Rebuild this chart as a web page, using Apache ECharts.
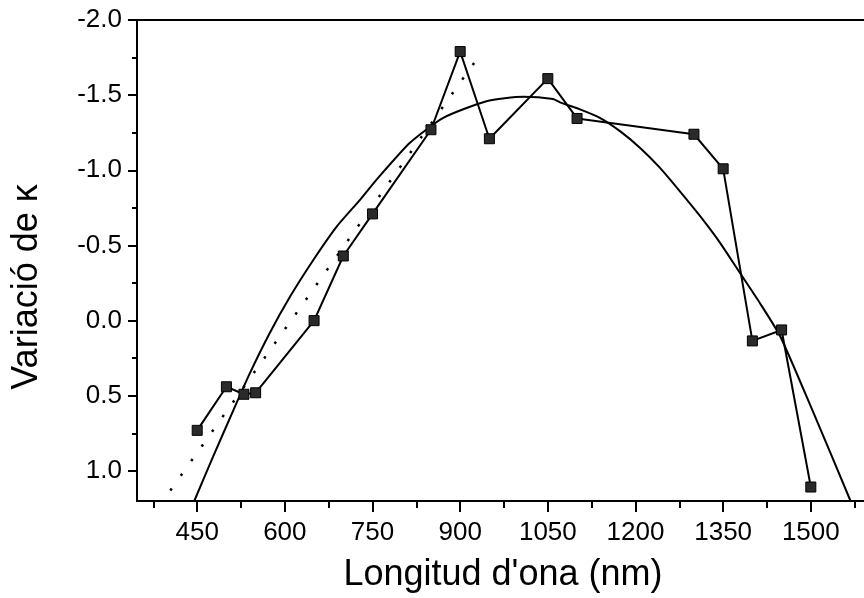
<!DOCTYPE html>
<html><head><meta charset="utf-8">
<script src="https://cdn.jsdelivr.net/npm/echarts@6/dist/echarts.min.js"></script>
<style>html,body{margin:0;padding:0;background:#fff}#c{width:864px;height:598px}</style>
</head><body><div id="c"></div>
<script>
// measured data (wavelength nm, variation of kappa)
const wavelengths = [450, 500, 530, 550, 650, 700, 750, 850, 900, 950, 1050, 1100, 1300, 1350, 1400, 1450, 1500];
const kappaVariation = [0.73, 0.44, 0.49, 0.48, 0.0, -0.43, -0.71, -1.27, -1.79, -1.21, -1.61, -1.345, -1.24, -1.01, 0.135, 0.062, 1.107];
// polynomial fit curve
const fitX = [445, 477, 512, 540, 574, 609, 649, 689, 729, 757, 814, 871, 945, 1008, 1059, 1071, 1105, 1139, 1174, 1208, 1242, 1276, 1311, 1345, 1379, 1413, 1448, 1505, 1568];
const fitY = [1.2, 0.907, 0.595, 0.351, 0.084, -0.16, -0.405, -0.627, -0.805, -0.938, -1.183, -1.349, -1.46, -1.489, -1.474, -1.452, -1.405, -1.349, -1.259, -1.149, -1.016, -0.86, -0.693, -0.516, -0.316, -0.116, 0.107, 0.617, 1.2];
// dotted linear trend
const trendX = [404, 934];
const trendY = [1.13, -1.77];
// axis ticks
const xMajorTicks = [450, 600, 750, 900, 1050, 1200, 1350, 1500];
const xMinorTicks = [375, 525, 675, 825, 975, 1125, 1275, 1425, 1575];
const yMajorTicks = [-2.0, -1.5, -1.0, -0.5, 0.0, 0.5, 1.0];
const yMinorTicks = [-1.75, -1.25, -0.75, -0.25, 0.25, 0.75];
const xTitle = "Longitud d'ona (nm)";
const yTitle = "Variació de κ";

const FONT = "'Liberation Sans', Arial, sans-serif";
const X_MIN = 347, X_MAX = 1591, Y_MIN = -2.0, Y_MAX = 1.2;
const lineBlack = {color: '#000', width: 2};

const zip = (a, b) => a.map((v, i) => [v, b[i]]);

const chart = echarts.init(document.getElementById('c'), null, {renderer: 'canvas'});
chart.setOption({
  animation: false,
  backgroundColor: '#fff',
  grid: {left: 137, top: 20, right: 0, bottom: 97},
  xAxis: [
    {type: 'value', position: 'bottom', min: X_MIN, max: X_MAX,
     axisLine: {onZero: false, lineStyle: lineBlack},
     axisTick: {show: true, length: 11, customValues: xMajorTicks, lineStyle: lineBlack},
     axisLabel: {customValues: xMajorTicks, margin: 19, color: '#000', fontSize: 26, fontFamily: FONT,
                 formatter: v => String(v)},
     splitLine: {show: false}},
    {type: 'value', position: 'bottom', min: X_MIN, max: X_MAX,
     axisLine: {show: false, onZero: false},
     axisTick: {show: true, length: 7, customValues: xMinorTicks, lineStyle: lineBlack},
     axisLabel: {show: false}, splitLine: {show: false}},
    {type: 'value', position: 'top', min: X_MIN, max: X_MAX,
     axisLine: {onZero: false, lineStyle: lineBlack},
     axisTick: {show: false}, axisLabel: {show: false}, splitLine: {show: false}}
  ],
  yAxis: [
    {type: 'value', position: 'left', inverse: true, min: Y_MIN, max: Y_MAX,
     axisLine: {show: true, onZero: false, lineStyle: lineBlack},
     axisTick: {show: true, length: 9, customValues: yMajorTicks, lineStyle: lineBlack},
     axisLabel: {customValues: yMajorTicks, margin: 15, color: '#000', fontSize: 26, fontFamily: FONT,
                 formatter: v => v.toFixed(1)},
     splitLine: {show: false}},
    {type: 'value', position: 'left', inverse: true, min: Y_MIN, max: Y_MAX,
     axisLine: {show: false, onZero: false},
     axisTick: {show: true, length: 5, customValues: yMinorTicks, lineStyle: lineBlack},
     axisLabel: {show: false}, splitLine: {show: false}}
  ],
  graphic: [
    {type: 'text', x: 503, y: 575, style: {text: xTitle, font: '36px ' + FONT, fill: '#000', align: 'center', verticalAlign: 'middle'}},
    {type: 'text', x: 27, y: 287, rotation: Math.PI / 2, style: {text: yTitle, font: '36px ' + FONT, fill: '#000', align: 'center', verticalAlign: 'middle'}}
  ],
  series: [
    {type: 'line', name: 'fit', xAxisIndex: 0, yAxisIndex: 0, data: zip(fitX, fitY), smooth: 0.2,
     showSymbol: false, symbol: 'none', lineStyle: {color: '#000', width: 2}, z: 2},
    {type: 'line', name: 'trend', xAxisIndex: 0, yAxisIndex: 0, data: zip(trendX, trendY),
     showSymbol: false, symbol: 'none', lineStyle: {color: '#000', width: 2.5, type: [2.5, 15.5]}, z: 2},
    {type: 'line', name: 'data', xAxisIndex: 0, yAxisIndex: 0, data: zip(wavelengths, kappaVariation),
     symbol: 'rect', symbolSize: 10, showSymbol: true,
     itemStyle: {color: '#2a2a2a', borderColor: '#000', borderWidth: 1},
     lineStyle: {color: '#000', width: 2}, z: 3}
  ]
});
</script></body></html>
